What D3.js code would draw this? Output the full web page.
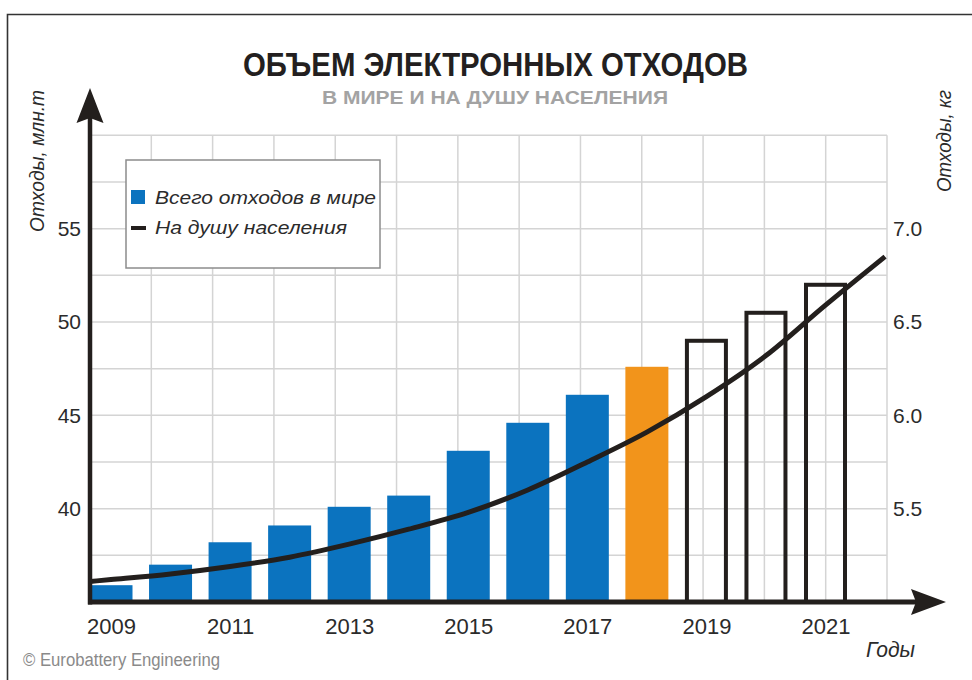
<!DOCTYPE html>
<html>
<head>
<meta charset="utf-8">
<script src="https://cdn.jsdelivr.net/npm/d3@7"></script>
<style>
  html, body { margin: 0; padding: 0; background: #fff; }
  svg { display: block; font-family: "Liberation Sans", Arial, sans-serif; }
</style>
</head>
<body>
<svg id="chart" width="972" height="680"></svg>
<script>
// data
const YEARS = [2009, 2010, 2011, 2012, 2013, 2014, 2015, 2016, 2017, 2018, 2019, 2020, 2021];
const TOTAL_MT = [35.9, 37.0, 38.2, 39.1, 40.1, 40.7, 43.1, 44.6, 46.1, 47.6, 49.1, 50.6, 52.1];
const KIND = ["fact", "fact", "fact", "fact", "fact", "fact", "fact", "fact", "fact",
              "current", "forecast", "forecast", "forecast"];
const LINE_YEARS = [2008.65, 2009, 2010, 2011, 2012, 2013, 2014, 2015, 2016, 2017, 2018, 2019, 2020, 2021, 2022];
const PER_CAPITA_KG = [5.11, 5.12, 5.15, 5.19, 5.24, 5.31, 5.39, 5.48, 5.60, 5.75, 5.91, 6.10, 6.32, 6.59, 6.85];
const LEFT_TICKS = [40, 45, 50, 55];
const RIGHT_TICKS = [5.5, 6.0, 6.5, 7.0];
const YEAR_LABELS = [2009, 2011, 2013, 2015, 2017, 2019, 2021];
const GRID_ROWS = [37.5, 40, 42.5, 45, 47.5, 50, 52.5, 55, 57.5, 60];
const GRID_COLS = [1, 2, 3, 4, 5, 6, 7, 8, 9, 10, 11, 12, 13];

const BLUE = "#0b73bf", ORANGE = "#f2941b", INK = "#231f1d", GRID = "#d4d4d4", TXT = "#2b2b2b";

const svg = d3.select("#chart");
const x = d3.scaleLinear([2009, 2021], [111, 825.5]);
const yL = d3.scaleLinear([35, 60], [602, 135.3]);
const yR = d3.scaleLinear([5.0, 7.5], [602, 135.3]);
const gx = d3.scaleLinear([0, 13], [90, 887]);
const BW = 43;

// frame
svg.append("path").attr("d", "M7.5,680V14.5H972")
  .attr("fill", "none").attr("stroke", "#333").attr("stroke-width", 1.6);

// grid
const grid = svg.append("g").attr("stroke", GRID).attr("stroke-width", 1.5);
grid.selectAll("line.h").data(GRID_ROWS).join("line").attr("class", "h")
  .attr("x1", 90).attr("x2", gx(13)).attr("y1", (d) => yL(d)).attr("y2", (d) => yL(d));
grid.selectAll("line.v").data(GRID_COLS).join("line").attr("class", "v")
  .attr("x1", (d) => gx(d)).attr("x2", (d) => gx(d)).attr("y1", yL(60)).attr("y2", 602);

// legend
const lg = svg.append("g");
lg.append("rect").attr("x", 126).attr("y", 160).attr("width", 254).attr("height", 108)
  .attr("fill", "#fff").attr("stroke", "#8c8c8c").attr("stroke-width", 1.5);
lg.append("rect").attr("x", 131).attr("y", 190).attr("width", 14).attr("height", 14).attr("fill", BLUE);
lg.append("line").attr("x1", 131).attr("x2", 146).attr("y1", 228).attr("y2", 228)
  .attr("stroke", INK).attr("stroke-width", 4);
lg.append("text").attr("x", 155).attr("y", 204).text("Всего отходов в мире")
  .attr("font-size", 19).attr("font-style", "italic").attr("fill", TXT)
  .attr("textLength", 221).attr("lengthAdjust", "spacingAndGlyphs");
lg.append("text").attr("x", 155).attr("y", 234).text("На душу населения")
  .attr("font-size", 19).attr("font-style", "italic").attr("fill", TXT)
  .attr("textLength", 192).attr("lengthAdjust", "spacingAndGlyphs");

// bars
const bars = YEARS.map((yr, i) => ({yr, v: TOTAL_MT[i], k: KIND[i]}));
svg.append("g").selectAll("rect").data(bars.filter((b) => b.k !== "forecast")).join("rect")
  .attr("x", (b) => x(b.yr) - BW / 2).attr("width", BW)
  .attr("y", (b) => yL(b.v)).attr("height", (b) => 602 - yL(b.v))
  .attr("fill", (b) => b.k === "current" ? ORANGE : BLUE);
svg.append("g").selectAll("rect").data(bars.filter((b) => b.k === "forecast")).join("rect")
  .attr("x", (b) => x(b.yr) - BW / 2 + 2).attr("width", BW - 4)
  .attr("y", (b) => yL(b.v) + 2).attr("height", (b) => 602 - yL(b.v) - 2)
  .attr("fill", "none").attr("stroke", INK).attr("stroke-width", 4);

// per capita line
const line = d3.line().x((d) => x(d[0])).y((d) => yR(d[1])).curve(d3.curveMonotoneX);
svg.append("path").datum(LINE_YEARS.map((yr, i) => [yr, PER_CAPITA_KG[i]]))
  .attr("d", line).attr("fill", "none").attr("stroke", INK).attr("stroke-width", 5);

// axes
const styleTicks = (g, size) => {
  g.select(".domain").remove();
  g.selectAll("text").attr("font-size", size).attr("fill", TXT)
    .attr("font-family", "\"Liberation Sans\", Arial, sans-serif");
};
svg.append("g").attr("transform", "translate(90,0)")
  .call(d3.axisLeft(yL).tickValues(LEFT_TICKS).tickSize(0).tickPadding(9))
  .call((g) => styleTicks(g, 21));
svg.append("g").attr("transform", `translate(${gx(13)},0)`)
  .call(d3.axisRight(yR).tickValues(RIGHT_TICKS).tickSize(0).tickPadding(6)
    .tickFormat(d3.format(".1f")))
  .call((g) => styleTicks(g, 21));
svg.append("g").attr("transform", "translate(0,602)")
  .call(d3.axisBottom(x).tickValues(YEAR_LABELS).tickSize(0).tickPadding(16)
    .tickFormat(d3.format("d")))
  .call((g) => styleTicks(g, 22));

// axis lines with arrows
svg.append("line").attr("x1", 90).attr("x2", 90).attr("y1", 604.5).attr("y2", 112)
  .attr("stroke", INK).attr("stroke-width", 4.5);
svg.append("path").attr("d", "M90,88L103.5,123L90,118L76.5,123Z").attr("fill", INK);
svg.append("line").attr("x1", 88).attr("x2", 920).attr("y1", 602).attr("y2", 602)
  .attr("stroke", INK).attr("stroke-width", 5);
svg.append("path").attr("d", "M946,602L911,589L916,602L911,615Z").attr("fill", INK);

// titles
svg.append("text").attr("x", 495.5).attr("y", 76).attr("text-anchor", "middle")
  .attr("font-size", 34).attr("font-weight", "bold").attr("fill", "#231f20")
  .attr("textLength", 505).attr("lengthAdjust", "spacingAndGlyphs")
  .text("ОБЪЕМ ЭЛЕКТРОННЫХ ОТХОДОВ");
svg.append("text").attr("x", 495).attr("y", 104).attr("text-anchor", "middle")
  .attr("font-size", 19).attr("font-weight", "bold").attr("fill", "#a3a3a3")
  .attr("textLength", 346).attr("lengthAdjust", "spacingAndGlyphs")
  .text("В МИРЕ И НА ДУШУ НАСЕЛЕНИЯ");

const vTitle = (cx, cy, len, s) => svg.append("text")
  .attr("transform", `translate(${cx},${cy}) rotate(-90)`).attr("text-anchor", "middle")
  .attr("font-size", 20).attr("font-style", "italic").attr("fill", TXT)
  .attr("textLength", len).attr("lengthAdjust", "spacingAndGlyphs").text(s);
vTitle(44, 161, 142, "Отходы, млн.т");
vTitle(951, 141, 102, "Отходы, кг");

svg.append("text").attr("x", 866).attr("y", 657).attr("font-size", 22)
  .attr("font-style", "italic").attr("fill", TXT)
  .attr("textLength", 49).attr("lengthAdjust", "spacingAndGlyphs").text("Годы");
svg.append("text").attr("x", 23).attr("y", 666).attr("font-size", 18).attr("fill", "#8a8a8a")
  .attr("textLength", 197).attr("lengthAdjust", "spacingAndGlyphs")
  .text("© Eurobattery Engineering");
</script>
</body>
</html>
